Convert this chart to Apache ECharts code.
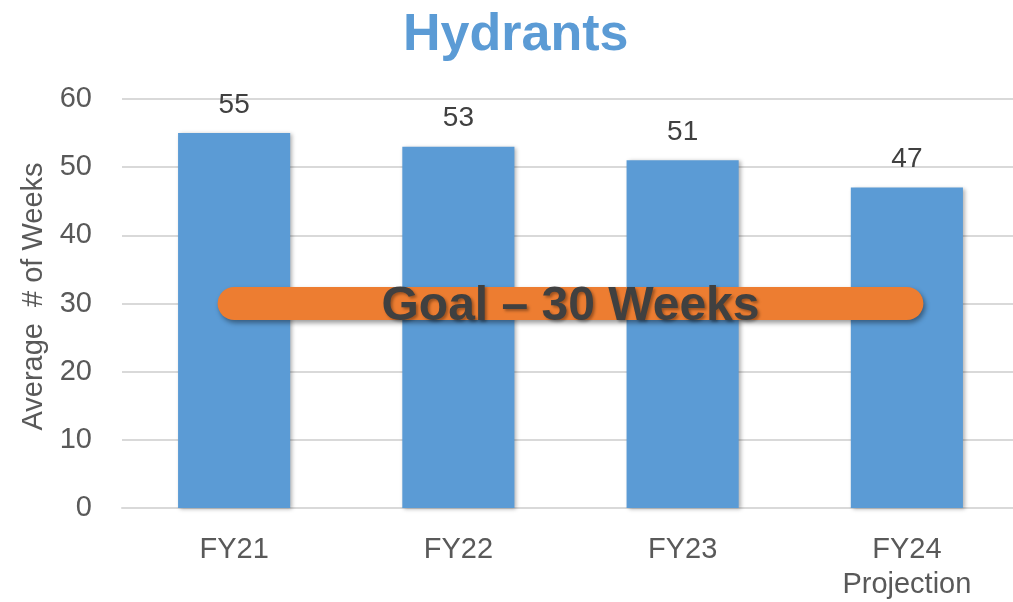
<!DOCTYPE html>
<html><head><meta charset="utf-8">
<script src="https://cdn.jsdelivr.net/npm/echarts@6/dist/echarts.min.js"></script>
<style>html,body{margin:0;padding:0;background:#fff}#c{width:1013px;height:602px}</style>
</head><body><div id="c"></div>
<script>
const categories = ['FY21', 'FY22', 'FY23', 'FY24\nProjection'];
const weeks = [55, 53, 51, 47];
const goalValue = 30;
const goalLabel = 'Goal \u2013 30 Weeks';
const yTicks = { min: 0, max: 60, interval: 10 };

const chart = echarts.init(document.getElementById('c'));
chart.setOption({
  animation: false,
  title: {
    text: 'Hydrants', left: 398, top: 5,
    textStyle: { fontFamily: 'Liberation Sans, Arial', fontSize: 52, fontWeight: 'bold', color: '#5B9BD5' }
  },
  grid: { left: 122, width: 897, top: 99, bottom: 94, outerBoundsMode: 'none', containLabel: false },
  xAxis: {
    type: 'category', data: categories,
    axisLine: { show: true, lineStyle: { color: '#D9D9D9', width: 2 } },
    axisTick: { show: false },
    axisLabel: { fontFamily: 'Liberation Sans, Arial', fontSize: 29, color: '#595959', margin: 24, lineHeight: 35 }
  },
  yAxis: {
    type: 'value', min: yTicks.min, max: yTicks.max, interval: yTicks.interval,
    name: 'Average  # of Weeks', nameLocation: 'middle', nameGap: 73,
    nameTextStyle: { fontFamily: 'Liberation Sans, Arial', fontSize: 29, color: '#595959', padding: [0, 0, 0, 14] },
    axisLine: { show: false }, axisTick: { show: false },
    axisLabel: { fontFamily: 'Liberation Sans, Arial', fontSize: 29, color: '#595959', margin: 30 },
    splitLine: { lineStyle: { color: '#D9D9D9', width: 2 } }
  },
  series: [{
    type: 'bar', data: weeks, barWidth: '50%',
    itemStyle: { color: '#5B9BD5', shadowBlur: 4, shadowColor: 'rgba(0,0,0,0.3)', shadowOffsetX: 2, shadowOffsetY: 1 },
    label: { show: true, position: 'top', distance: 14, fontFamily: 'Liberation Sans, Arial', fontSize: 28, color: '#404040' },
    markLine: {
      silent: true, symbol: 'none',
      lineStyle: { type: 'solid', color: '#ED7D31', width: 33, cap: 'round',
        shadowBlur: 5, shadowColor: 'rgba(0,0,0,0.4)', shadowOffsetX: 2, shadowOffsetY: 3 },
      label: {
        show: true, position: 'middle', formatter: goalLabel, distance: 0, offset: [0, 27],
        fontFamily: 'Liberation Sans, Arial', fontSize: 48, fontWeight: 'bold', color: '#404040',
        textShadowBlur: 3, textShadowColor: 'rgba(0,0,0,0.35)', textShadowOffsetX: 2, textShadowOffsetY: 2
      },
      data: [[{ coord: [categories[0], goalValue] }, { coord: [categories[3], goalValue] }]]
    }
  }]
});
</script></body></html>
